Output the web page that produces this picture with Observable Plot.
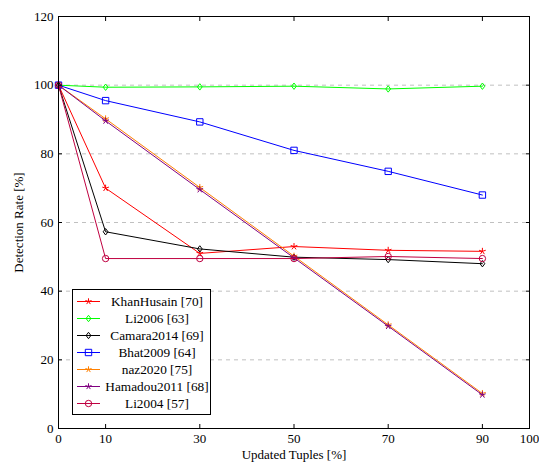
<!DOCTYPE html>
<html><head><meta charset="utf-8">
<script src="https://cdn.jsdelivr.net/npm/d3@7"></script>
<script src="https://cdn.jsdelivr.net/npm/@observablehq/plot@0.6"></script>
<style>
body{margin:0;background:#fff}
#wrap{position:relative;width:539px;height:463px;font-family:"Liberation Serif",serif}
#legend{position:absolute;left:72px;top:289px}
</style>
</head><body><div id="wrap"></div>
<script>
// ---- data ----
const updatedTuples = [0, 10, 30, 50, 70, 90];
const seriesNames = ["KhanHusain [70]", "Li2006 [63]", "Camara2014 [69]", "Bhat2009 [64]", "naz2020 [75]", "Hamadou2011 [68]", "Li2004 [57]"];
const seriesColors = ["#ff0000", "#00ff00", "#000000", "#0000ff", "#ff8000", "#800080", "#bf0040"];
const seriesMarkers = ["star", "diamond", "diamond", "square", "star", "star", "circle"];
const khanHusain  = [100, 70.0, 51.0, 53.0, 51.9, 51.6];
const li2006      = [100, 99.4, 99.5, 99.7, 98.9, 99.7];
const camara2014  = [100, 57.3, 52.3, 49.9, 49.2, 48.0];
const bhat2009    = [100, 95.5, 89.3, 81.0, 74.9, 68.0];
const naz2020     = [100, 90.2, 70.2, 50.2, 30.2, 10.2];
const hamadou2011 = [100, 89.6, 69.6, 49.7, 29.8, 9.8];
const li2004      = [100, 49.5, 49.5, 49.5, 50.1, 49.5];
const seriesValues = [khanHusain, li2006, camara2014, bhat2009, naz2020, hamadou2011, li2004];
const xTicks = [0, 10, 30, 50, 70, 90, 100];
const yTicks = [0, 20, 40, 60, 80, 100, 120];
const gridTicks = [20, 40, 60, 80, 100];

// ---- symbols (pgfplots-like) ----
const symStar = {draw(ctx, size){const r=Math.sqrt(size/Math.PI);for(let k=0;k<5;k++){const a=-Math.PI/2+k*2*Math.PI/5;ctx.moveTo(0,0);ctx.lineTo(r*Math.cos(a),r*Math.sin(a));}}};
const symDiamond = {draw(ctx, size){const r=Math.sqrt(size/Math.PI);ctx.moveTo(0,-r);ctx.lineTo(0.75*r,0);ctx.lineTo(0,r);ctx.lineTo(-0.75*r,0);ctx.closePath();}};
const symSquare = {draw(ctx, size){const r=Math.sqrt(size/Math.PI);ctx.rect(-r,-r,2*r,2*r);}};
const symCircle = {draw(ctx, size){const r=Math.sqrt(size/Math.PI);ctx.moveTo(r,0);ctx.arc(0,0,r,0,2*Math.PI);}};
const symbolOf = {star: symStar, diamond: symDiamond, square: symSquare, circle: symCircle};

const rows = [];
seriesNames.forEach((s, i) => updatedTuples.forEach((x, j) => rows.push({series: s, x, y: seriesValues[i][j]})));

const seriesMarks = [];
seriesNames.forEach((s, i) => {
  const f = d => d.series === s;
  seriesMarks.push(Plot.line(rows, {filter: f, x: "x", y: "y", stroke: seriesColors[i], strokeWidth: 1}));
  seriesMarks.push(Plot.dot(rows, {filter: f, x: "x", y: "y", stroke: seriesColors[i], fill: "none", strokeWidth: 1,
    r: seriesMarkers[i] === "star" ? 3.5 : 3.2, symbol: symbolOf[seriesMarkers[i]]}));
});

const chart = Plot.plot({
  width: 539, height: 463,
  marginLeft: 58, marginRight: 10, marginTop: 16, marginBottom: 35,
  style: {fontFamily: "'Liberation Serif', serif", fontSize: "13px", color: "black", background: "white"},
  x: {domain: [0, 100]},
  y: {domain: [0, 120]},
  marks: [
    Plot.ruleY(gridTicks, {stroke: "#c0c0c0", strokeDasharray: "4,4"}),
    ...seriesMarks,
    Plot.frame({stroke: "black"}),
    Plot.axisX(xTicks, {tickSize: 0, tickPadding: 5, label: "Updated Tuples [%]", labelAnchor: "center", labelArrow: "none", labelOffset: 30}),
    Plot.axisX(xTicks, {tickSize: -4, text: null, label: null}),
    Plot.axisX(xTicks, {anchor: "top", tickSize: -4, text: null, label: null}),
    Plot.axisY(yTicks, {tickSize: 0, tickPadding: 5, label: "Detection Rate [%]", labelAnchor: "center", labelArrow: "none", labelOffset: 45}),
    Plot.axisY(yTicks, {tickSize: -4, text: null, label: null}),
    Plot.axisY(yTicks, {anchor: "right", tickSize: -4, text: null, label: null})
  ]
});
const wrap = document.getElementById("wrap");
wrap.appendChild(chart);

// ---- legend ----
const lw = 139, rowH = 17.0, lh = 126;
const svg = d3.select(wrap).append("svg").attr("id", "legend").attr("width", lw).attr("height", lh);
svg.append("rect").attr("x", 0.5).attr("y", 0.5).attr("width", lw - 1).attr("height", lh - 1).attr("fill", "white").attr("stroke", "black");
seriesNames.forEach((s, i) => {
  const cy = 12.5 + i * rowH;
  const g = svg.append("g");
  g.append("line").attr("x1", 5).attr("x2", 28).attr("y1", cy).attr("y2", cy).attr("stroke", seriesColors[i]);
  g.append("path").attr("d", d3.symbol(symbolOf[seriesMarkers[i]], Math.PI * 3.2 * 3.2)()).attr("transform", `translate(16.5,${cy})`)
    .attr("fill", "none").attr("stroke", seriesColors[i]);
  g.append("text").attr("x", 85).attr("y", cy).attr("dy", "0.35em").attr("text-anchor", "middle")
    .attr("font-family", "'Liberation Serif', serif").attr("font-size", 13.3).text(s);
});
</script>
</body></html>
